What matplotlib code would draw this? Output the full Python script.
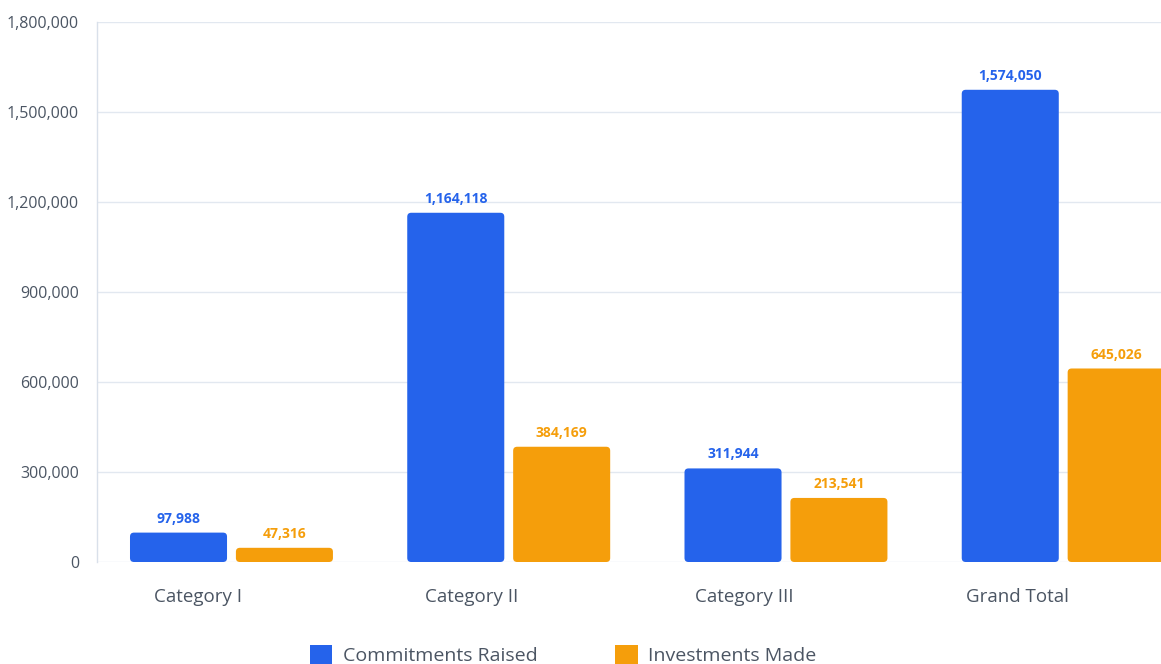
import numpy as np
import matplotlib.pyplot as plt
from matplotlib.patches import FancyBboxPatch, Patch
from matplotlib.ticker import FuncFormatter

categories = ['Category I', 'Category II', 'Category III', 'Grand Total']
commitments = [97988, 1164118, 311944, 1574050]
investments = [47316, 384169, 213541, 645026]
series_names = ['Commitments Raised', 'Investments Made']
colors = ['#2563EB', '#F59E0B']

plt.rcParams['font.family'] = ['Open Sans', 'DejaVu Sans']

W, H = 1161, 664
fig = plt.figure(figsize=(W / 100, H / 100), dpi=100)
ax_left, ax_bottom = 97 / W, (H - 562) / H
ax_w, ax_h = (1206 - 97) / W, 540 / H
ax = fig.add_axes([ax_left, ax_bottom, ax_w, ax_h])

x = np.arange(len(categories))
shift = -0.015
bw = 0.35
off = 0.191

bars1 = ax.bar(x + shift - off, commitments, bw, color=colors[0])
bars2 = ax.bar(x + shift + off, investments, bw, color=colors[1])

ax.set_xlim(-0.5, 3.5)
ax.set_ylim(0, 1800000)

# rounded corners: swap each rectangle for a rounded box of the same size
px_x = 4.0 / 277.3
aspect = (1800000 / 540) * 277.3
for bars, col in [(bars1, colors[0]), (bars2, colors[1])]:
    for b in bars:
        b.set_visible(False)
        rb = FancyBboxPatch((b.get_x(), b.get_y()), b.get_width(), b.get_height(),
                            boxstyle=f"round,pad=0,rounding_size={px_x}",
                            mutation_aspect=aspect, facecolor=col, edgecolor='none', zorder=3)
        ax.add_patch(rb)
        ax.annotate(f"{int(b.get_height()):,}", (b.get_x() + b.get_width() / 2, b.get_height()),
                    xytext=(0, 5), textcoords='offset points', ha='center', va='bottom',
                    fontsize=10, fontweight='bold', color=col, zorder=4)

ax.set_yticks(np.arange(0, 1800001, 300000))
ax.yaxis.set_major_formatter(FuncFormatter(lambda v, p: f"{int(v):,}"))
ax.grid(axis='y', color='#E2E8F0', linewidth=1)
ax.set_axisbelow(True)

ax.set_xticks(np.arange(len(categories)) * 0.985 - 0.135)
ax.set_xticklabels(categories)
ax.tick_params(axis='x', length=0, pad=19, labelsize=13.5, labelcolor='#4B5563')
ax.tick_params(axis='y', length=0, pad=13, labelsize=11.5, labelcolor='#4B5563')

for s in ['top', 'right', 'bottom']:
    ax.spines[s].set_visible(False)
ax.spines['left'].set_color('#D9E0EA')
ax.spines['left'].set_linewidth(1)

handles = [Patch(facecolor=c, edgecolor='none') for c in colors]
fig.legend(handles, series_names, loc='center', bbox_to_anchor=(563 / W, (H - 655) / H),
           ncol=2, frameon=False, fontsize=14, labelcolor='#4B5563',
           handlelength=1.15, handleheight=1.15, handletextpad=0.55, columnspacing=4.0)

fig.savefig('out.png', dpi=100)
